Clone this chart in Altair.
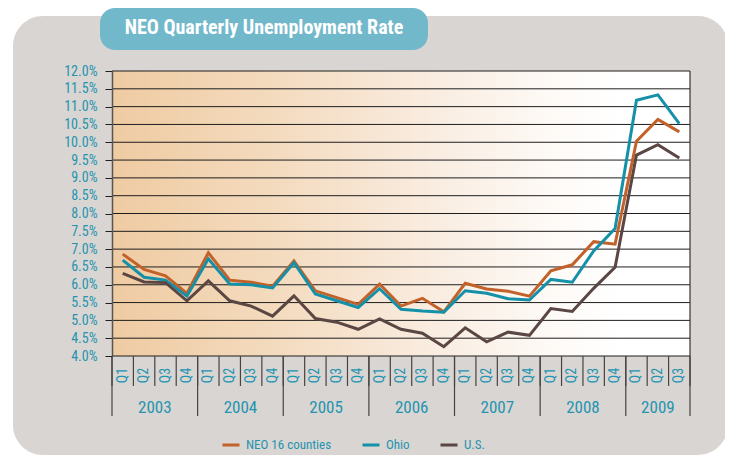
import altair as alt
import pandas as pd

# ---------------- data ----------------
years = ["2003", "2004", "2005", "2006", "2007", "2008", "2009"]
quarters = ["Q1", "Q2", "Q3", "Q4"] * 6 + ["Q1", "Q2", "Q3"]
series_names = ["NEO 16 counties", "Ohio", "U.S."]
neo = [6.86, 6.43, 6.25, 5.76, 6.90, 6.13, 6.07, 5.96, 6.67, 5.83, 5.64, 5.45, 6.02, 5.40,
       5.62, 5.24, 6.04, 5.88, 5.82, 5.68, 6.39, 6.56, 7.21, 7.14, 10.03, 10.64, 10.29]
ohio = [6.69, 6.21, 6.13, 5.68, 6.73, 6.02, 6.00, 5.91, 6.62, 5.74, 5.55, 5.36, 5.89, 5.31,
        5.26, 5.23, 5.83, 5.76, 5.61, 5.57, 6.15, 6.07, 6.95, 7.58, 11.18, 11.33, 10.52]
us = [6.32, 6.08, 6.06, 5.55, 6.11, 5.55, 5.40, 5.12, 5.69, 5.05, 4.95, 4.75, 5.04, 4.75,
      4.64, 4.26, 4.79, 4.40, 4.67, 4.58, 5.33, 5.25, 5.90, 6.49, 9.64, 9.93, 9.56]
y_ticks = [4.0, 4.5, 5.0, 5.5, 6.0, 6.5, 7.0, 7.5, 8.0, 8.5, 9.0, 9.5, 10.0, 10.5, 11.0, 11.5, 12.0]
title_text = "NEO Quarterly Unemployment Rate"

# ---------------- styles ----------------
FONT = "Roboto Condensed, DejaVu Sans Condensed, sans-serif"
TEAL_TXT = "#2494b0"
COLORS = ["#c3612a", "#1490a8", "#5a4642"]
PANEL = "#d9d5d2"
W, H = 578, 285
N = len(quarters)

rows = []
for name, vals in zip(series_names, [neo, ohio, us]):
    for i, v in enumerate(vals):
        rows.append({"series": name, "pos": i + 0.5, "rate": v,
                     "order": series_names.index(name)})
lines_df = pd.DataFrame(rows)

q_df = pd.DataFrame({"pos": [i + 0.5 for i in range(N)], "q": quarters})
q_bound = pd.DataFrame({"b": list(range(N + 1))})
year_starts = [0, 4, 8, 12, 16, 20, 24]
year_ends = [4, 8, 12, 16, 20, 24, N]
y_df = pd.DataFrame({"year": years,
                     "pos": [(a + b) / 2 for a, b in zip(year_starts, year_ends)]})
y_bound = pd.DataFrame({"b": year_starts + [N]})
grid_df = pd.DataFrame({"v": y_ticks})
bg_df = pd.DataFrame({"x0": [0], "x1": [N], "y0": [4.0], "y1": [12.0]})
one = pd.DataFrame({"a": [0]})

xscale = alt.Scale(domain=[0, N], nice=False, zero=False)
yscale = alt.Scale(domain=[4, 12], nice=False, zero=False)
yaxis = alt.Axis(values=y_ticks, labelExpr="format(datum.value, '.1f') + '%'",
                 grid=False, domain=True, domainColor="#555555", domainWidth=1.5,
                 tickColor="#1e1e1e", tickSize=7, labelPadding=8,
                 labelOverlap=False, labelBound=False, labelFlush=False,
                 labelColor=TEAL_TXT, labelFont=FONT, labelFontSize=14,
                 title=None, zindex=1)

panel = alt.Chart(one).mark_rect(color=PANEL, cornerRadius=30).encode(
    x=alt.value(-99), x2=alt.value(616), y=alt.value(-55), y2=alt.value(384))

grad = alt.Gradient(gradient="linear", x1=0, x2=1, y1=0, y2=0, stops=[
    alt.GradientStop(color="#efcba2", offset=0),
    alt.GradientStop(color="#f4dcc0", offset=0.3),
    alt.GradientStop(color="#f9ece0", offset=0.55),
    alt.GradientStop(color="#fefbf8", offset=0.78),
    alt.GradientStop(color="#ffffff", offset=0.88),
    alt.GradientStop(color="#ffffff", offset=1)])
bg = alt.Chart(bg_df).mark_rect(fill=grad).encode(
    x=alt.X("x0:Q", scale=xscale, axis=None), x2="x1:Q",
    y=alt.Y("y0:Q", scale=yscale, axis=yaxis), y2="y1:Q")

grid = alt.Chart(grid_df).mark_rule(color="#1e1e1e", strokeWidth=1).encode(
    y=alt.Y("v:Q", scale=yscale, axis=yaxis),
    x=alt.value(0), x2=alt.value(W))

right_border = alt.Chart(one).mark_rule(color="#333333", strokeWidth=1.2).encode(
    x=alt.value(W), y=alt.value(0), y2=alt.value(H))

lines = alt.Chart(lines_df).mark_line(strokeWidth=3).encode(
    x=alt.X("pos:Q", scale=xscale, axis=None),
    y=alt.Y("rate:Q", scale=yscale, axis=yaxis),
    color=alt.Color("series:N", scale=alt.Scale(domain=series_names, range=COLORS),
                    legend=alt.Legend(orient="none", legendX=109, legendY=364,
                                      direction="horizontal", title=None,
                                      symbolType="stroke", symbolSize=289,
                                      symbolStrokeWidth=3, labelFont=FONT,
                                      labelFontSize=13, labelColor=TEAL_TXT,
                                      columnPadding=24, labelOffset=5, padding=0,
                                      zindex=1)),
    detail="series:N",
    order=alt.Order("order:Q", sort="descending"))

q_sep = alt.Chart(q_bound).mark_rule(color="#444444", strokeWidth=1.2).encode(
    x=alt.X("b:Q", scale=xscale), y=alt.value(H), y2=alt.value(315))
y_sep = alt.Chart(y_bound).mark_rule(color="#444444", strokeWidth=1.2).encode(
    x=alt.X("b:Q", scale=xscale), y=alt.value(H), y2=alt.value(345))
q_text = alt.Chart(q_df).mark_text(angle=270, font=FONT, fontSize=14, color=TEAL_TXT,
                                   align="center", baseline="middle").encode(
    x=alt.X("pos:Q", scale=xscale), y=alt.value(304.5), text="q:N")
y_text = alt.Chart(y_df).mark_text(font=FONT, fontSize=17, color=TEAL_TXT,
                                   align="center", baseline="middle").encode(
    x=alt.X("pos:Q", scale=xscale), y=alt.value(337), text="year:N")

title_box = alt.Chart(one).mark_rect(color="#72b8cb", cornerRadius=15).encode(
    x=alt.value(-12), x2=alt.value(316), y=alt.value(-63), y2=alt.value(-21))
title = alt.Chart(pd.DataFrame({"t": [title_text]})).mark_text(
    font=FONT, fontSize=20, fontWeight="bold", color="white", align="center",
    baseline="middle").encode(
    x=alt.value(152), y=alt.value(-43), text="t:N")

chart = alt.layer(panel, bg, grid, right_border, lines, q_sep, y_sep, q_text, y_text,
                  title_box, title).properties(
    width=W, height=H,
    autosize=alt.AutoSizeParams(type="none"),
    padding={"left": 104, "top": 63, "right": 35, "bottom": 99},
).configure_view(stroke=None).configure(background="white")

chart.save("out.html", embed_options={"renderer": "svg", "actions": False})
